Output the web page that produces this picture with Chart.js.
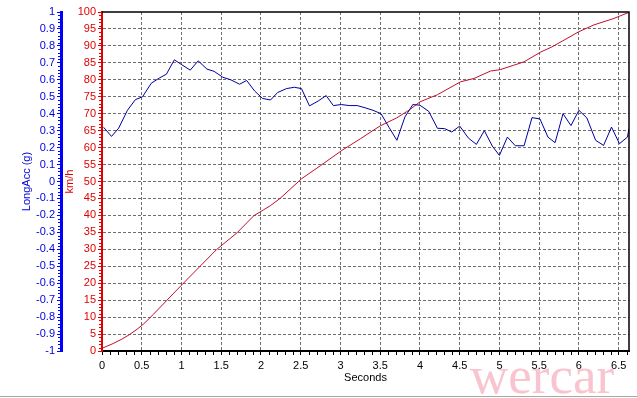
<!DOCTYPE html>
<html>
<head>
<meta charset="utf-8">
<script src="https://cdn.jsdelivr.net/npm/chart.js@4.4.1/dist/chart.umd.min.js"></script>
<style>
html,body{margin:0;padding:0;background:#fff;overflow:hidden}
canvas{display:block}
</style>
</head>
<body>
<canvas id="c" width="637" height="398"></canvas>
<script>
// ---- data ----
const accTime = [0.02,0.12,0.21,0.32,0.42,0.51,0.62,0.72,0.81,0.91,1.00,1.11,1.21,1.32,1.41,1.52,1.62,1.73,1.82,1.92,2.02,2.12,2.21,2.32,2.42,2.51,2.61,2.72,2.82,2.91,3.01,3.11,3.21,3.31,3.41,3.51,3.61,3.71,3.81,3.91,4.00,4.11,4.22,4.31,4.40,4.50,4.61,4.71,4.81,4.91,5.00,5.10,5.20,5.31,5.41,5.51,5.61,5.70,5.80,5.90,6.00,6.10,6.21,6.31,6.41,6.51,6.61,6.63];
const accG = [0.32,0.266,0.315,0.42,0.483,0.50,0.58,0.61,0.633,0.718,0.69,0.657,0.712,0.663,0.65,0.615,0.60,0.574,0.596,0.534,0.49,0.481,0.525,0.548,0.556,0.548,0.446,0.475,0.507,0.448,0.454,0.448,0.448,0.435,0.42,0.40,0.32,0.243,0.38,0.454,0.45,0.414,0.314,0.312,0.292,0.327,0.256,0.219,0.30,0.209,0.154,0.262,0.211,0.211,0.377,0.369,0.262,0.229,0.40,0.33,0.42,0.375,0.243,0.213,0.321,0.223,0.262,0.312];
const speedTime = [0,0.14,0.25,0.35,0.44,0.52,0.65,0.81,1.02,1.23,1.44,1.70,1.91,2.03,2.12,2.24,2.51,2.75,3.02,3.25,3.38,3.50,3.71,3.86,4.00,4.22,4.51,4.68,4.89,5.01,5.18,5.31,5.52,5.66,5.85,6.00,6.19,6.44,6.63];
const speedKmh = [0.8,2.2,3.5,4.9,6.4,7.9,10.9,14.8,19.9,24.9,29.9,34.9,39.9,41.6,42.9,45.0,50.8,54.7,59.2,62.6,64.6,66.4,68.8,71.0,73.5,75.6,79.4,80.4,82.6,83.0,84.3,85.3,88.2,89.7,92.2,94.2,96.2,98.1,99.9];

const xRange = [0, 6.63];        // Seconds
const gRange = [-1, 1];          // LongAcc (g)
const vRange = [0, 100];         // km/h
const xStep = 0.5, gStep = 0.1, vStep = 5;
const xMinor = 0.1, gMinor = 0.02, vMinor = 1;

const xTitle = 'Seconds';
const gTitle = 'LongAcc (g)';
const vTitle = 'km/h';
const watermark = 'wercar';

const FAM = "'Liberation Sans', Arial, sans-serif";
const GRID = '#6e6e6e';
const BLUE = '#0000ff';
const RED = '#e00000';

const fmt = (v) => String(+(+v).toFixed(2));

const frame = {
  id: 'frame',
  beforeDraw(chart) {
    const ctx = chart.ctx;
    ctx.save();
    ctx.fillStyle = '#fff';
    ctx.fillRect(0, 0, chart.width, chart.height);
    ctx.font = "53px 'Liberation Serif', 'Times New Roman', serif";
    ctx.fillStyle = '#f8c4cf';
    ctx.textBaseline = 'alphabetic';
    ctx.fillText(watermark, 470, 393);
    ctx.restore();
  },
  afterDraw(chart) {
    const ctx = chart.ctx, ca = chart.chartArea;
    const xs = chart.scales.x, yv = chart.scales.yV, yg = chart.scales.yG;
    ctx.save();
    // top and right frame
    ctx.strokeStyle = '#000';
    ctx.lineWidth = 1.5;
    ctx.beginPath();
    ctx.moveTo(ca.left, ca.top);
    ctx.lineTo(ca.right, ca.top);
    ctx.lineTo(ca.right, ca.bottom);
    ctx.stroke();
    // minor ticks
    ctx.lineWidth = 1;
    ctx.beginPath();
    for (let k = 1; k * xMinor <= xRange[1] + 1e-9; k++) {
      if (k % 5 === 0) continue;
      const px = Math.round(xs.getPixelForValue(k * xMinor)) + 0.5;
      ctx.moveTo(px, ca.bottom + 1); ctx.lineTo(px, ca.bottom + 4);
    }
    ctx.stroke();
    ctx.strokeStyle = RED;
    ctx.beginPath();
    for (let k = 1; k < 100; k++) {
      if (k % 5 === 0) continue;
      const py = Math.round(yv.getPixelForValue(k * vMinor)) + 0.5;
      ctx.moveTo(ca.left - 3, py); ctx.lineTo(ca.left, py);
    }
    ctx.stroke();
    ctx.strokeStyle = BLUE;
    ctx.beginPath();
    for (let k = -49; k < 50; k++) {
      if (k % 5 === 0) continue;
      const py = Math.round(yg.getPixelForValue(k * gMinor)) + 0.5;
      ctx.moveTo(yg.right - 3, py); ctx.lineTo(yg.right, py);
    }
    ctx.stroke();
    // bottom grey separator
    ctx.fillStyle = '#a8a8a8';
    ctx.fillRect(0, 396, chart.width, 1);
    ctx.restore();
  }
};

const hideEdge = (lo, hi) => (c) => (c.tick && (Math.abs(c.tick.value - lo) < 1e-9 || Math.abs(c.tick.value - hi) < 1e-9)) ? 'rgba(0,0,0,0)' : GRID;

new Chart(document.getElementById('c'), {
  type: 'line',
  data: {
    datasets: [
      {
        label: gTitle,
        data: accTime.map((t, i) => ({x: t, y: accG[i]})),
        yAxisID: 'yG',
        borderColor: '#0000a0',
        borderWidth: 1,
        pointRadius: 0,
        tension: 0,
        fill: false
      },
      {
        label: vTitle,
        data: speedTime.map((t, i) => ({x: t, y: speedKmh[i]})),
        yAxisID: 'yV',
        borderColor: '#c0102e',
        borderWidth: 1,
        pointRadius: 0,
        tension: 0,
        fill: false
      }
    ]
  },
  options: {
    responsive: false,
    devicePixelRatio: 1,
    animation: false,
    events: [],
    layout: {padding: {top: 12, right: 8, bottom: 0, left: 0}},
    plugins: {legend: {display: false}, tooltip: {enabled: false}},
    scales: {
      x: {
        type: 'linear',
        position: 'bottom',
        min: xRange[0], max: xRange[1],
        ticks: {stepSize: xStep, includeBounds: false, color: '#000', font: {size: 11, family: FAM}, padding: 4, maxRotation: 0, autoSkip: false, callback: fmt},
        grid: {color: hideEdge(xRange[0], xRange[1]), lineWidth: 1, tickColor: '#000', tickLength: 4},
        border: {color: '#000', width: 2, dash: [3, 2]},
        title: {display: true, text: xTitle, color: '#000', font: {size: 11, family: FAM}, padding: {top: 0, bottom: 13}},
        afterFit: (s) => { s.height = 47; }
      },
      yV: {
        type: 'linear',
        position: 'left',
        weight: 0,
        min: vRange[0], max: vRange[1],
        ticks: {stepSize: vStep, color: RED, font: {size: 11, family: FAM}, padding: 2, callback: fmt},
        grid: {color: hideEdge(vRange[0], vRange[1]), lineWidth: 1, tickColor: RED, tickLength: 4},
        border: {color: RED, width: 2, dash: [3, 2]},
        title: {display: true, text: vTitle, color: RED, font: {size: 11, family: FAM}, padding: {top: 2, bottom: 0}},
        afterFit: (s) => { s.width = 41; }
      },
      yG: {
        type: 'linear',
        position: 'left',
        weight: 1,
        min: gRange[0], max: gRange[1],
        ticks: {stepSize: gStep, color: '#0000e0', font: {size: 11, family: FAM}, padding: 2, callback: fmt},
        grid: {drawOnChartArea: false, tickColor: BLUE, tickLength: 4},
        border: {color: BLUE, width: 3},
        title: {display: true, text: gTitle, color: '#0000e0', font: {size: 11, family: FAM}, padding: {top: 20, bottom: 0}},
        afterFit: (s) => { s.width = 61; }
      }
    }
  },
  plugins: [frame]
});
</script>
</body>
</html>
